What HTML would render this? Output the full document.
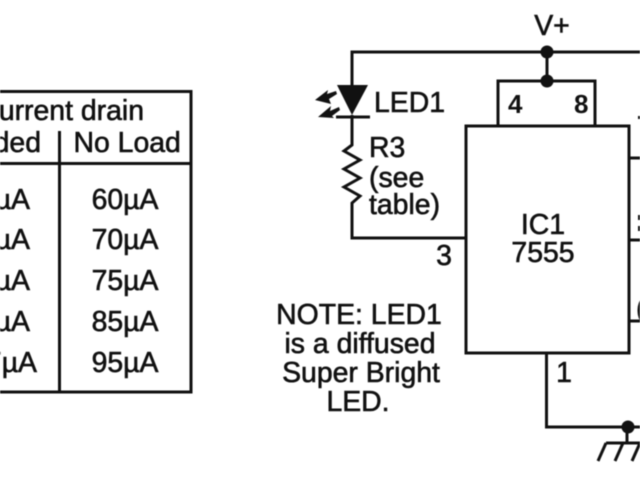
<!DOCTYPE html>
<html><head><meta charset="utf-8"><style>
html,body{margin:0;padding:0;background:#fff;width:640px;height:480px;overflow:hidden}
svg{display:block;filter:blur(0.5px)}
text{font-family:"Liberation Sans",sans-serif;fill:#111;stroke:#111;stroke-width:.6px;font-size:28.4px}
</style></head><body>
<svg width="640" height="480" viewBox="0 0 640 480" xmlns="http://www.w3.org/2000/svg">
<rect width="640" height="480" fill="#fff"/>
<g fill="none" stroke="#111" stroke-width="3">
<path d="M0 91.5H191V392H0"/>
<path d="M0 163.5H191"/>
<path d="M59.5 131V392"/>
<path d="M640 52H352V85"/>
<path d="M352 115V145L344 151L360 160L344 169L360 178L344 187L360 196L352 203V238H466"/>
<path d="M336 117H370"/>
<path d="M547 52V81"/>
<path d="M498 125V81H595V125"/>
<rect x="466" y="126" width="163" height="227"/>
<path d="M630 158H640M630 240H640M630 321H640"/>
<path d="M546.5 353V427H640"/>
<path d="M627 427V443M606 443H640"/>
<path d="M606 443L598 461M623 443L615 461M640 443L632 461"/>
</g>
<g fill="#111">
<polygon points="337,85 368,85 352,115"/>
<circle cx="547" cy="52" r="6.5"/>
<circle cx="547" cy="81" r="6.5"/>
<circle cx="628" cy="427" r="6.5"/>
<polygon points="315,100 328,90 327,94 336,91 337,94 329,99 331,104"/>
<polygon points="318,117 331,106 330,111 339,107 340,110 332,116 334,118"/>
</g>
<rect x="638" y="116" width="2" height="3" fill="#111"/>
<rect x="638" y="215" width="2" height="5" fill="#111"/>
<rect x="638" y="226" width="2" height="5" fill="#111"/>
<text x="144" y="120" text-anchor="end">urrent drain</text>
<text x="41" y="152" text-anchor="end">ded</text>
<text x="73.500" y="152">No Load</text>
<g text-anchor="end">
<text x="30" y="209">µA</text><text x="30" y="249">µA</text><text x="30" y="290">µA</text><text x="30" y="331">µA</text><text x="37" y="372">7µA</text>
</g>
<g text-anchor="middle">
<text x="125" y="209">60µA</text><text x="125" y="249">70µA</text><text x="125" y="290">75µA</text><text x="125" y="331">85µA</text><text x="125" y="372">95µA</text>
</g>
<text x="552" y="35" text-anchor="middle">V+</text>
<text x="374" y="112">LED1</text>
<text x="369" y="157">R3</text>
<text x="369" y="187">(see</text>
<text x="369" y="214">table)</text>
<text x="508" y="113" font-weight="bold" style="font-size:26px;stroke-width:0">4</text>
<text x="574" y="113" font-weight="bold" style="font-size:26px;stroke-width:0">8</text>
<text x="543" y="234" text-anchor="middle">IC1</text>
<text x="543" y="262" text-anchor="middle">7555</text>
<text x="444" y="265" text-anchor="middle">3</text>
<text x="564" y="382" text-anchor="middle">1</text>
<text x="359" y="324" text-anchor="middle">NOTE: LED1</text>
<text x="360" y="353" text-anchor="middle">is a diffused</text>
<text x="361" y="382" text-anchor="middle">Super Bright</text>
<text x="358" y="411" text-anchor="middle">LED.</text>
<text x="636" y="318">(</text>
</svg>
</body></html>
